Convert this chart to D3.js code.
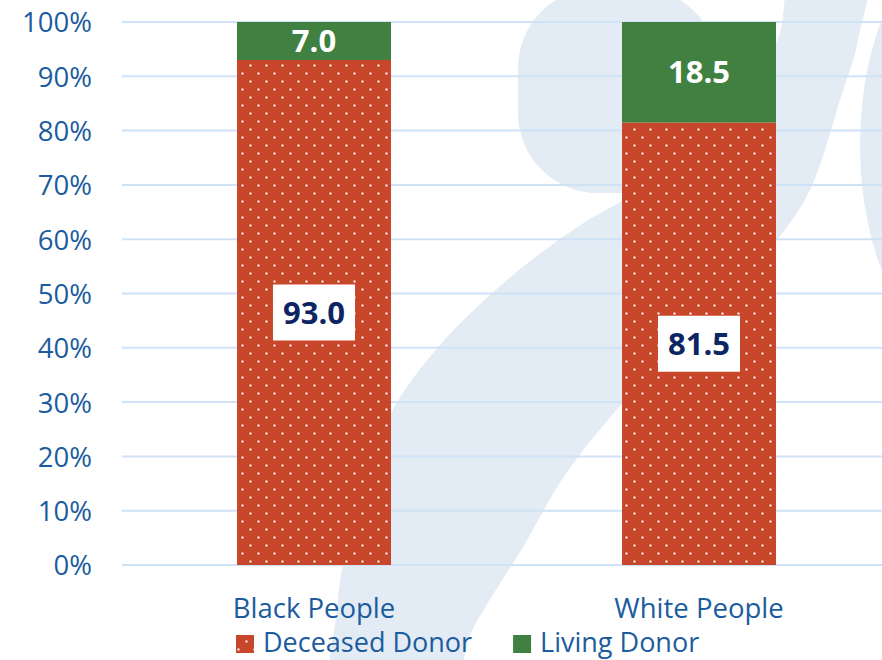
<!DOCTYPE html>
<html>
<head>
<meta charset="utf-8">
<script src="https://cdn.jsdelivr.net/npm/d3@7"></script>
<style>
  html, body { margin: 0; padding: 0; background: #ffffff; }
  svg { display: block; }
  text { font-family: "Open Sans", "Noto Sans", sans-serif; }
</style>
</head>
<body>
<svg id="chart" width="882" height="660"></svg>
<script>
// ---- data ----
const categories = ["Black People", "White People"];
const deceased = [93.0, 81.5];
const living = [7.0, 18.5];
const seriesNames = ["Deceased Donor", "Living Donor"];
const yTicks = [0, 10, 20, 30, 40, 50, 60, 70, 80, 90, 100];

// ---- styles ----
const W = 882, H = 660;
const colDeceased = "#c8472b";
const colLiving = "#408040";
const axisBlue = "#1b5c9e";
const navy = "#0e2563";
const gridCol = "#cfe2f6";
const wmCol = "#e3ebf4";

const svg = d3.select("#chart");

// ---- background watermark (decoration) ----
const wm = svg.append("g").attr("class", "watermark");
wm.append("rect").attr("x", 518).attr("y", -12).attr("width", 200).attr("height", 205)
  .attr("rx", 80).attr("ry", 80).attr("fill", wmCol);
const strokePts = [
  [795, -30], [865, -30], [858, 40], [840, 100], [810, 190], [777, 240], [700, 325],
  [622, 404], [565, 475], [523, 547], [470, 635], [452, 690],
  [336, 690], [337, 610], [345, 555], [368, 480], [391, 413], [440, 345],
  [513, 275], [585, 222], [630, 195], [710, 115], [776, 43]
];
wm.append("path")
  .attr("d", d3.line().curve(d3.curveCatmullRomClosed.alpha(0.5))(strokePts))
  .attr("fill", wmCol);
wm.append("ellipse").attr("cx", 965).attr("cy", 145).attr("rx", 105).attr("ry", 205)
  .attr("fill", wmCol);

// ---- scales ----
const x = d3.scaleBand().domain(categories).range([122, 891])
  .paddingInner(0.6).paddingOuter(0.2987);
const y = d3.scaleLinear().domain([0, 100]).range([565, 22]);

// ---- grid ----
svg.append("g").selectAll("line").data(yTicks).join("line")
  .attr("x1", 122).attr("x2", W)
  .attr("y1", d => y(d)).attr("y2", d => y(d))
  .attr("stroke", gridCol).attr("stroke-width", 2);

// ---- y axis labels ----
const yAxis = d3.axisLeft(y).tickValues(yTicks).tickFormat(d => d + "%").tickSize(0).tickPadding(0);
const gy = svg.append("g").attr("transform", "translate(92,0)").call(yAxis);
gy.select(".domain").remove();
gy.selectAll("text").attr("fill", axisBlue).attr("font-size", 27.5)
  .attr("font-family", "Open Sans").attr("dy", "0.36em");

// ---- pattern ----
const defs = svg.append("defs");
const pat = defs.append("pattern").attr("id", "dots").attr("patternUnits", "userSpaceOnUse")
  .attr("width", 16).attr("height", 16);
pat.append("rect").attr("width", 16).attr("height", 16).attr("fill", colDeceased);
pat.append("rect").attr("x", 9.5).attr("y", 0.5).attr("width", 2).attr("height", 2).attr("fill", "#ffffff");
pat.append("rect").attr("x", 1.5).attr("y", 8.5).attr("width", 2).attr("height", 2).attr("fill", "#ffffff");

// ---- stacked bars ----
const rows = categories.map((c, i) => ({ cat: c, "Deceased Donor": deceased[i], "Living Donor": living[i] }));
const stacked = d3.stack().keys(seriesNames)(rows);
const fills = { "Deceased Donor": "url(#dots)", "Living Donor": colLiving };

stacked.forEach(s => {
  svg.append("g").selectAll("rect").data(s).join("rect")
    .attr("x", d => x(d.data.cat))
    .attr("width", x.bandwidth())
    .attr("y", d => y(d[1]))
    .attr("height", d => y(d[0]) - y(d[1]))
    .attr("fill", fills[s.key]);
});

// ---- value labels ----
stacked.forEach(s => {
  const g = svg.append("g");
  s.forEach(d => {
    const cx = x(d.data.cat) + x.bandwidth() / 2;
    const cy = y((d[0] + d[1]) / 2);
    const val = d[1] - d[0];
    const t = g.append("text").attr("x", cx).attr("y", cy).attr("dy", "0.36em")
      .attr("text-anchor", "middle").attr("font-weight", 700).attr("font-size", 31)
      .text(val.toFixed(1));
    if (s.key === "Deceased Donor") {
      t.attr("fill", navy);
      const w = t.node().getComputedTextLength() + 20;
      g.insert("rect", "text").attr("x", cx - w / 2).attr("y", cy - 28).attr("width", w).attr("height", 56)
        .attr("fill", "#ffffff");
    } else {
      t.attr("fill", "#ffffff");
    }
  });
});

// ---- x axis labels ----
const xAxis = d3.axisBottom(x).tickSize(0).tickPadding(0);
const gx = svg.append("g").attr("transform", "translate(0,618)").call(xAxis);
gx.select(".domain").remove();
gx.selectAll("text").attr("fill", axisBlue).attr("font-size", 27.5)
  .attr("font-family", "Open Sans").attr("dy", 0);

// ---- legend ----
const leg = svg.append("g").attr("transform", "translate(236,0)");
let lx = 0;
seriesNames.forEach((name, i) => {
  const item = leg.append("g").attr("transform", `translate(${lx},0)`);
  item.append("rect").attr("x", 0).attr("y", 635).attr("width", 18).attr("height", 18)
    .attr("fill", i === 0 ? "url(#dots)" : colLiving);
  const t = item.append("text").attr("x", 27).attr("y", 652).attr("fill", axisBlue)
    .attr("font-size", 27).text(name);
  lx += 27 + t.node().getComputedTextLength() + 41;
});
</script>
</body>
</html>
